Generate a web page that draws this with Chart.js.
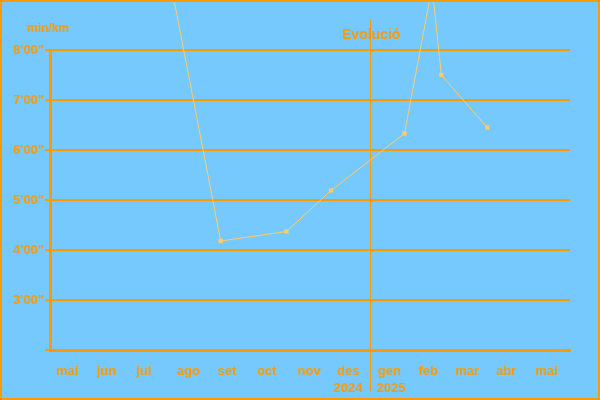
<!DOCTYPE html>
<html>
<head>
<meta charset="utf-8">
<script src="https://cdn.jsdelivr.net/npm/chart.js@4/dist/chart.umd.min.js"></script>
<style>
  html, body { margin: 0; padding: 0; background: #75c9fd; }
  #wrap { width: 600px; height: 400px; }
</style>
</head>
<body>
<div id="wrap"><canvas id="paceChart" width="600" height="400"></canvas></div>
<script>
// Session dates and pace in minutes per km
const sessionDates = ['2024-07-24', '2024-08-04', '2024-09-08', '2024-10-28', '2024-12-01',
                      '2025-01-26', '2025-02-16', '2025-02-23', '2025-03-30'];
const paceValues = [9.3, 8.93, 4.18, 4.37, 5.19, 6.33, 9.27, 7.5, 6.45];

// Axis labels
const monthLabels = ['mai', 'jun', 'jul', 'ago', 'set', 'oct', 'nov', 'des', 'gen', 'feb', 'mar', 'abr', 'mai'];
const monthStarts = ['2024-05-01', '2024-06-01', '2024-07-01', '2024-08-01', '2024-09-01', '2024-10-01',
                     '2024-11-01', '2024-12-01', '2025-01-01', '2025-02-01', '2025-03-01', '2025-04-01', '2025-05-01'];
const yearLabels = ['2024', '2025'];
const yearBreak = '2025-01-01';
const rangeStart = '2024-05-01';
const rangeEnd = '2025-06-01';
const paceTicks = [2, 3, 4, 5, 6, 7, 8];

const ORANGE = '#ff9900';
const LINE = '#ffcc66';
const BG = '#75c9fd';
const FONT = '"Liberation Sans", Arial, sans-serif';

// days since rangeStart
function dayIndex(iso) {
    const p = iso.split('-').map(Number);
    const s = rangeStart.split('-').map(Number);
    return (Date.UTC(p[0], p[1] - 1, p[2]) - Date.UTC(s[0], s[1] - 1, s[2])) / 86400000;
}

// Background, frame, titles and the year divider
const framePlugin = {
    id: 'frame',
    beforeDraw(chart) {
        const ctx = chart.ctx;
        ctx.save();
        ctx.fillStyle = BG;
        ctx.fillRect(0, 0, chart.width, chart.height);
        ctx.restore();
    },
    beforeDatasetsDraw(chart) {
        const ctx = chart.ctx;
        const x = Math.floor(chart.scales.x.getPixelForValue(dayIndex(yearBreak))) - 0.5;
        ctx.save();
        ctx.strokeStyle = ORANGE;
        ctx.lineWidth = 1;
        ctx.beginPath();
        ctx.moveTo(x, 20);
        ctx.lineTo(x, 391);
        ctx.stroke();
        ctx.restore();
    },
    afterDraw(chart) {
        const ctx = chart.ctx;
        const x = Math.floor(chart.scales.x.getPixelForValue(dayIndex(yearBreak))) - 0.5;
        ctx.save();
        ctx.strokeStyle = ORANGE;
        ctx.lineWidth = 2;
        ctx.strokeRect(1, 1, chart.width - 2, chart.height - 2);

        ctx.fillStyle = ORANGE;
        ctx.textBaseline = 'middle';
        ctx.font = 'bold 12px ' + FONT;
        ctx.textAlign = 'left';
        ctx.fillText('min/km', 27, 29);

        ctx.font = 'bold 14px ' + FONT;
        ctx.fillText('Evolució', 342, 35);

        ctx.font = 'bold 13px ' + FONT;
        ctx.textAlign = 'right';
        ctx.fillText(yearLabels[0], x - 8, 388);
        ctx.textAlign = 'left';
        ctx.fillText(yearLabels[1], x + 6, 388);
        ctx.restore();
    }
};

const ctx = document.getElementById('paceChart');
new Chart(ctx, {
    type: 'line',
    data: {
        datasets: [{
            data: sessionDates.map((d, i) => ({ x: dayIndex(d), y: paceValues[i] })),
            borderColor: LINE,
            backgroundColor: LINE,
            borderWidth: 1,
            pointStyle: 'rect',
            pointRadius: 3,
            pointBorderWidth: 0,
            tension: 0,
            clip: false
        }]
    },
    options: {
        responsive: false,
        animation: false,
        layout: { padding: { left: 0, right: 30, top: 50, bottom: 0 } },
        plugins: {
            legend: { display: false },
            tooltip: { enabled: false }
        },
        scales: {
            x: {
                type: 'linear',
                min: dayIndex(rangeStart),
                max: dayIndex(rangeEnd),
                afterBuildTicks: s => { s.ticks = monthStarts.map(d => ({ value: dayIndex(d) })); },
                afterFit: s => { s.height = 50; },
                grid: { display: false, drawTicks: false },
                border: { display: true, color: ORANGE, width: 3 },
                ticks: {
                    autoSkip: false,
                    maxRotation: 0,
                    align: 'start',
                    labelOffset: 6,
                    padding: 14,
                    color: ORANGE,
                    font: { family: FONT, size: 13, weight: 'bold' },
                    callback: (v, i) => monthLabels[i]
                }
            },
            y: {
                min: 2,
                max: 8,
                afterBuildTicks: s => { s.ticks = paceTicks.map(v => ({ value: v })); },
                afterFit: s => { s.width = 50; },
                grid: { color: ORANGE, lineWidth: 2, tickLength: 5 },
                border: { display: true, color: ORANGE, width: 3 },
                ticks: {
                    padding: 1,
                    color: ORANGE,
                    font: { family: FONT, size: 13, weight: 'bold' },
                    callback: v => v >= 3 ? v + "'00\"" : ''
                }
            }
        }
    },
    plugins: [framePlugin]
});
</script>
</body>
</html>
